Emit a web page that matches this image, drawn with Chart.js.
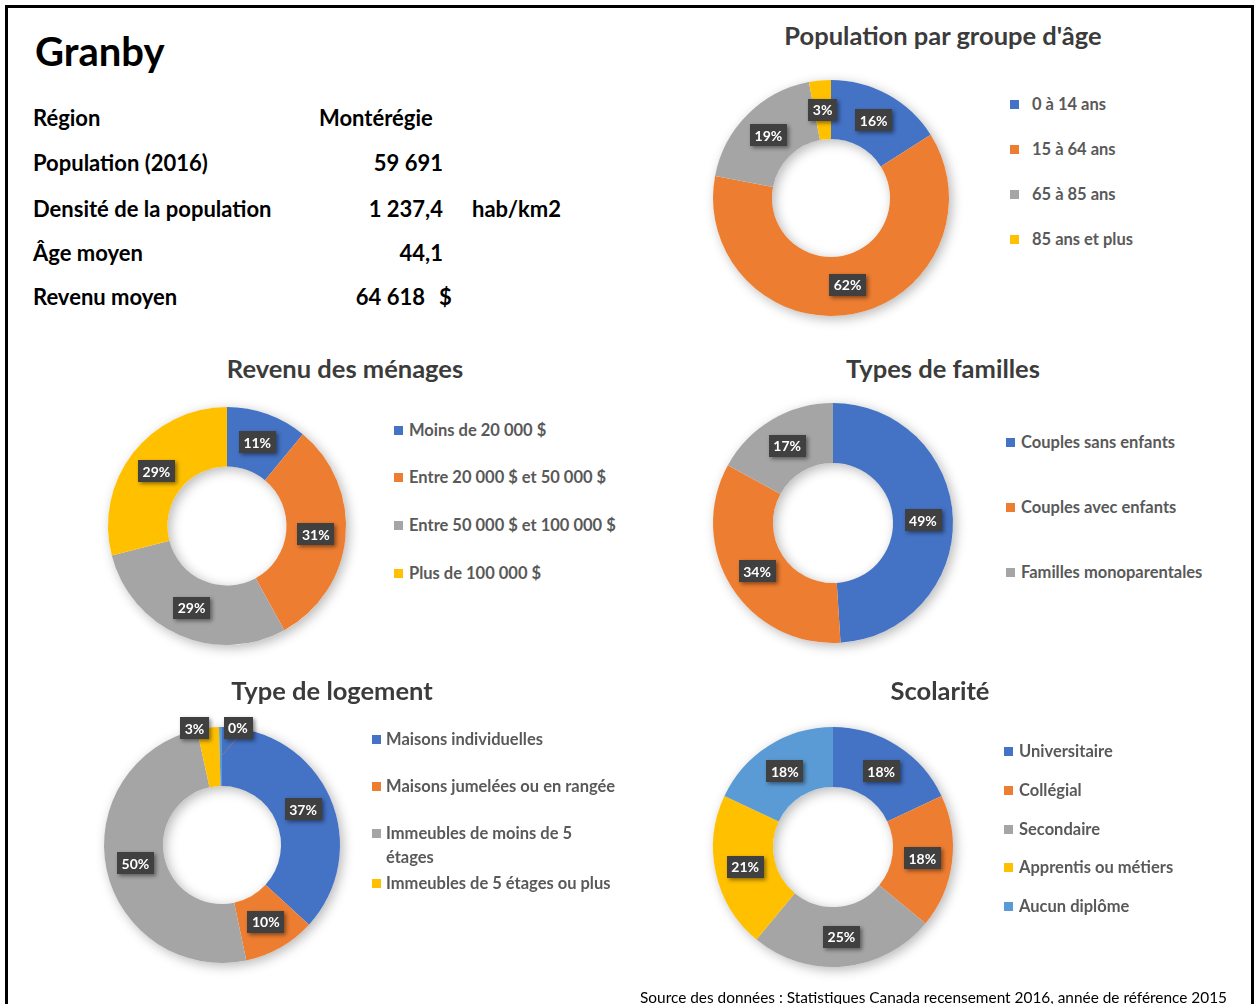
<!DOCTYPE html>
<html lang="fr">
<head>
<meta charset="utf-8">
<title>Granby</title>
<script src="https://cdn.jsdelivr.net/npm/chart.js@4.4.1/dist/chart.umd.min.js"></script>
<style>
    html, body { margin: 0; padding: 0; background: #fff; }
    body {
        position: relative;
        width: 1254px;
        height: 1004px;
        overflow: hidden;
        font-family: Lato, 'Open Sans', 'DejaVu Sans', sans-serif;
        color: #000;
    }
    .frame {
        position: absolute;
        left: 5px; top: 5px;
        width: 1249px; height: 1100px;
        border: 3px solid #000;
        box-sizing: border-box;
    }
    .abs { position: absolute; white-space: nowrap; }
    .city { font-size: 40px; font-weight: 700; line-height: 44px; }
    .row { font-size: 22px; font-weight: 700; line-height: 26px; height: 26px; }
    .num { text-align: right; }
    .title {
        font-size: 25.5px; font-weight: 700; color: #3b3b3b;
        line-height: 30px; height: 30px; transform: translateX(-50%);
    }
    .lg-sq { position: absolute; width: 9px; height: 9px; }
    .lg-txt {
        position: absolute; font-size: 16.5px; font-weight: 700; color: #595959;
        line-height: 24px; white-space: nowrap;
    }
    canvas { position: absolute; }
    .source { font-size: 15.4px; line-height: 18px; text-align: right; }
</style>
</head>
<body>
<div class="frame"></div>

<div class="abs city" style="left:35px; top:29px;">Granby</div>

<div class="abs row" style="left:33px; top:105px;">Région</div>
<div class="abs row" style="left:319px; top:105px;">Montérégie</div>

<div class="abs row" style="left:33px; top:150px;">Population (2016)</div>
<div class="abs row num" style="left:290px; width:153px; top:150px;">59 691</div>

<div class="abs row" style="left:33px; top:196px;">Densité de la population</div>
<div class="abs row num" style="left:290px; width:153px; top:196px;">1 237,4</div>
<div class="abs row" style="left:472px; top:196px;">hab/km2</div>

<div class="abs row" style="left:33px; top:240px;">Âge moyen</div>
<div class="abs row num" style="left:290px; width:153px; top:240px;">44,1</div>

<div class="abs row" style="left:33px; top:284px;">Revenu moyen</div>
<div class="abs row num" style="left:290px; width:135px; top:284px;">64 618</div>
<div class="abs row" style="left:439px; top:284px;">$</div>

<div id="panels"></div>

<div class="abs source" style="right:27px; top:988px;">Source des données : Statistiques Canada recensement 2016, année de référence 2015</div>

<script>
// Office palette
var BLUE = '#4472C4', ORANGE = '#ED7D31', GRAY = '#A5A5A5', YELLOW = '#FFC000', LIGHT_BLUE = '#5B9BD5';

// --- data (percent) ---
var ageLabels = ['0 à 14 ans', '15 à 64 ans', '65 à 85 ans', '85 ans et plus'];
var ageValues = [16, 62, 19, 3];

var revenuLabels = ['Moins de 20 000 $', 'Entre 20 000 $ et 50 000 $', 'Entre 50 000 $ et 100 000 $', 'Plus de 100 000 $'];
var revenuValues = [11, 31, 29, 29];

var familleLabels = ['Couples sans enfants', 'Couples avec enfants', 'Familles monoparentales'];
var familleValues = [49, 34, 17];

var logementLabels = ['Maisons individuelles', 'Maisons jumelées ou en rangée',
    ['Immeubles de moins de 5', 'étages'], 'Immeubles de 5 étages ou plus', 'Autres logements'];
var logementValues = [36.8, 9.9, 49.9, 3.0, 0.4];

var scolariteLabels = ['Universitaire', 'Collégial', 'Secondaire', 'Apprentis ou métiers', 'Aucun diplôme'];
var scolariteValues = [18, 18, 25, 21, 18];

var PAD = 34;

// layout of each panel: title centre, ring centre/radius, legend placement
var panels = [
    { title: 'Population par groupe d\'âge', titleX: 943, titleY: 35,
      labels: ageLabels, values: ageValues, colors: [BLUE, ORANGE, GRAY, YELLOW],
      cx: 831, cy: 198, r: 118, sqX: 1010, txtX: 1032, rows: [104, 149, 194, 239] },
    { title: 'Revenu des ménages', titleX: 345, titleY: 368,
      labels: revenuLabels, values: revenuValues, colors: [BLUE, ORANGE, GRAY, YELLOW],
      cx: 227, cy: 526, r: 119, sqX: 394, txtX: 409, rows: [430, 477, 525, 573] },
    { title: 'Types de familles', titleX: 943, titleY: 368,
      labels: familleLabels, values: familleValues, colors: [BLUE, ORANGE, GRAY],
      cx: 833, cy: 523, r: 120, sqX: 1006, txtX: 1021, rows: [442, 507, 572] },
    { title: 'Type de logement', titleX: 332, titleY: 690,
      labels: logementLabels, values: logementValues, colors: [BLUE, ORANGE, GRAY, YELLOW, LIGHT_BLUE],
      cx: 222, cy: 845, r: 118, sqX: 372, txtX: 386, rows: [739, 786, 833, 883],
      // small slices: labels pushed out of the ring, last one with a leader line
      labelShift: { 3: [-17, -29], 4: [17, -29, true] } },
    { title: 'Scolarité', titleX: 940, titleY: 690,
      labels: scolariteLabels, values: scolariteValues, colors: [BLUE, ORANGE, GRAY, YELLOW, LIGHT_BLUE],
      cx: 833, cy: 847, r: 120, sqX: 1004, txtX: 1019, rows: [751, 790, 829, 867, 906] }
];

// soft drop shadow under the whole ring
var ringShadow = {
    id: 'ringShadow',
    beforeDatasetsDraw: function(chart) {
        var arc = chart.getDatasetMeta(0).data[0];
        if (!arc) return;
        var ctx = chart.ctx;
        ctx.save();
        ctx.shadowColor = 'rgba(0,0,0,0.28)';
        ctx.shadowBlur = 12;
        ctx.shadowOffsetX = 3;
        ctx.shadowOffsetY = 3;
        ctx.beginPath();
        ctx.arc(arc.x, arc.y, arc.outerRadius, 0, Math.PI * 2);
        ctx.arc(arc.x, arc.y, arc.innerRadius, 0, Math.PI * 2, true);
        ctx.fillStyle = '#ffffff';
        ctx.fill();
        ctx.restore();
    }
};

// dark percentage tags in the middle of each slice
var pctLabels = {
    id: 'pctLabels',
    afterDatasetsDraw: function(chart, args, opts) {
        var ctx = chart.ctx;
        var meta = chart.getDatasetMeta(0);
        var data = chart.data.datasets[0].data;
        var shift = opts.shift || {};
        ctx.save();
        ctx.font = 'bold 14px Lato, "Open Sans", sans-serif';
        ctx.textAlign = 'center';
        ctx.textBaseline = 'middle';
        meta.data.forEach(function(arc, i) {
            var p = arc.tooltipPosition();
            var x = p.x, y = p.y;
            var s = shift[i];
            if (s) {
                x += s[0];
                y += s[1];
                if (s[2]) {
                    ctx.strokeStyle = '#7f7f7f';
                    ctx.lineWidth = 1;
                    ctx.beginPath();
                    ctx.moveTo(x - 1, y + 11);
                    ctx.lineTo(p.x, p.y);
                    ctx.stroke();
                }
            }
            var txt = Math.round(data[i]) + '%';
            var w = ctx.measureText(txt).width + 9;
            var h = 22;
            ctx.save();
            ctx.shadowColor = 'rgba(0,0,0,0.45)';
            ctx.shadowBlur = 4;
            ctx.shadowOffsetX = 2;
            ctx.shadowOffsetY = 2;
            ctx.fillStyle = '#404040';
            ctx.fillRect(Math.round(x - w / 2), Math.round(y - h / 2), Math.round(w), h);
            ctx.restore();
            ctx.fillStyle = '#ffffff';
            ctx.fillText(txt, x, y + 1);
        });
        ctx.restore();
    }
};

var host = document.getElementById('panels');

panels.forEach(function(pn, k) {
    // title
    var t = document.createElement('div');
    t.className = 'abs title';
    t.style.left = pn.titleX + 'px';
    t.style.top = (pn.titleY - 15) + 'px';
    t.textContent = pn.title;
    host.appendChild(t);

    // legend (entries that have a row)
    pn.rows.forEach(function(y, i) {
        var sq = document.createElement('div');
        sq.className = 'lg-sq';
        sq.style.left = pn.sqX + 'px';
        sq.style.top = (y - 4.5) + 'px';
        sq.style.background = pn.colors[i];
        host.appendChild(sq);

        var tx = document.createElement('div');
        tx.className = 'lg-txt';
        tx.style.left = pn.txtX + 'px';
        tx.style.top = (y - 12) + 'px';
        var lab = pn.labels[i];
        tx.innerHTML = Array.isArray(lab) ? lab.join('<br>') : lab;
        host.appendChild(tx);
    });

    // doughnut
    var size = 2 * pn.r + 2 * PAD;
    var cv = document.createElement('canvas');
    cv.id = 'donut' + k;
    cv.width = size;
    cv.height = size;
    cv.style.width = size + 'px';
    cv.style.height = size + 'px';
    cv.style.left = (pn.cx - pn.r - PAD) + 'px';
    cv.style.top = (pn.cy - pn.r - PAD) + 'px';
    host.appendChild(cv);

    new Chart(cv, {
        type: 'doughnut',
        data: {
            labels: pn.labels.map(function(l) { return Array.isArray(l) ? l.join(' ') : l; }),
            datasets: [{
                data: pn.values,
                backgroundColor: pn.colors,
                borderWidth: 0,
                hoverOffset: 0
            }]
        },
        options: {
            responsive: false,
            animation: false,
            cutout: '50%',
            layout: { padding: PAD },
            events: [],
            plugins: {
                legend: { display: false },
                tooltip: { enabled: false },
                pctLabels: { shift: pn.labelShift || {} }
            }
        },
        plugins: [ringShadow, pctLabels]
    });
});
</script>
</body>
</html>
